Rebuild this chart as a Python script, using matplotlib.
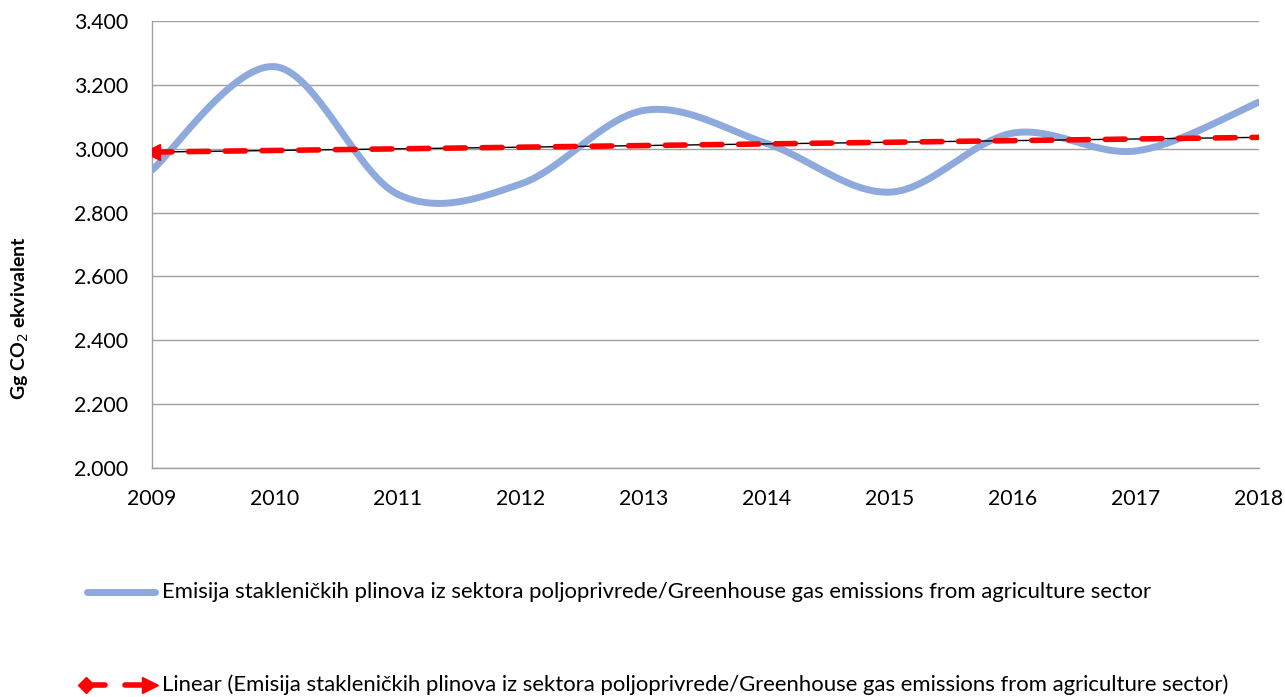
import numpy as np
import matplotlib
matplotlib.use("Agg")
import matplotlib.pyplot as plt
from matplotlib.lines import Line2D
from matplotlib.ticker import FuncFormatter

years = [2009, 2010, 2011, 2012, 2013, 2014, 2015, 2016, 2017, 2018]
emissions = [2933, 3257, 2857, 2890, 3120, 3016, 2864, 3049, 2993, 3146]

label_series = "Emisija stakleničkih plinova iz sektora poljoprivrede/Greenhouse gas emissions from agriculture sector"
label_trend = "Linear (Emisija stakleničkih plinova iz sektora poljoprivrede/Greenhouse gas emissions from agriculture sector)"

plt.rcParams['font.family'] = ['Lato', 'DejaVu Sans']


def smooth(x, y, n=40):
    # excel-like smoothed line: bezier segments with catmull-rom control points
    x = np.asarray(x, float)
    y = np.asarray(y, float)
    px = np.concatenate([[x[0]], x, [x[-1]]])
    py = np.concatenate([[y[0]], y, [y[-1]]])
    xs, ys = [], []
    t = np.linspace(0, 1, n)
    for i in range(1, len(px) - 2):
        p0 = np.array([px[i], py[i]])
        p3 = np.array([px[i + 1], py[i + 1]])
        p1 = p0 + (np.array([px[i + 1], py[i + 1]]) - np.array([px[i - 1], py[i - 1]])) / 6
        p2 = p3 - (np.array([px[i + 2], py[i + 2]]) - np.array([px[i], py[i]])) / 6
        b = ((1 - t) ** 3)[:, None] * p0 + (3 * (1 - t) ** 2 * t)[:, None] * p1 \
            + (3 * (1 - t) * t ** 2)[:, None] * p2 + (t ** 3)[:, None] * p3
        xs.extend(b[:, 0])
        ys.extend(b[:, 1])
    return np.array(xs), np.array(ys)


fig = plt.figure(figsize=(12.85, 6.97), dpi=100)
ax = fig.add_axes([152 / 1285, 1 - 468 / 697, (1259 - 152) / 1285, (468 - 21) / 697])

blue = "#8EA9DB"
sx, sy = smooth(years, emissions)
ax.plot(sx, sy, color=blue, lw=5, solid_capstyle="round", zorder=3)

coef = np.polyfit(years, emissions, 1)
ty = np.polyval(coef, years)
ax.plot(years, ty, color="black", lw=1, zorder=4)
ax.plot(years, ty, color="red", lw=4, dashes=(3.6, 3.0), dash_capstyle="round", zorder=5)
ax.plot([years[0]], [ty[0]], marker="<", color="red", ms=11, zorder=6)

ax.set_xlim(2009, 2018)
ax.set_ylim(2000, 3400)
ax.set_xticks(years)
ax.set_yticks(np.arange(2000, 3401, 200))
ax.yaxis.set_major_formatter(FuncFormatter(lambda v, p: f"{int(v):,}".replace(",", ".")))
ax.tick_params(length=0, labelsize=15.3)
ax.tick_params(axis="y", pad=17)
ax.tick_params(axis="x", pad=15)
ax.grid(axis="y", color="#A0A0A0", lw=1)
ax.set_axisbelow(True)
for s in ["top", "right"]:
    ax.spines[s].set_visible(False)
for s in ["left", "bottom"]:
    ax.spines[s].set_color("#A0A0A0")
    ax.spines[s].set_linewidth(1)

fig.text(20 / 1285, 1 - 318 / 697, "Gg CO$_2$ ekvivalent", rotation=90, ha="center", va="center",
         fontsize=14, fontweight="bold")

# legend, drawn by hand below the plot
y1 = 1 - 592 / 697
y2 = 1 - 685 / 697
fig.add_artist(Line2D([87 / 1285, 155 / 1285], [y1, y1], color=blue, lw=5, solid_capstyle="round"))
fig.text(162 / 1285, y1, label_series, ha="left", va="center", fontsize=15.9)
fig.add_artist(Line2D([86 / 1285, 105 / 1285], [y2, y2], color="red", lw=4, solid_capstyle="round"))
fig.add_artist(Line2D([86 / 1285], [y2], marker="D", color="red", ms=8))
fig.add_artist(Line2D([125 / 1285, 150 / 1285], [y2, y2], color="red", lw=4, solid_capstyle="round"))
fig.add_artist(Line2D([150 / 1285], [y2], marker=">", color="red", ms=11))
fig.text(162 / 1285, y2, label_trend, ha="left", va="center", fontsize=15.9)

fig.savefig("out.png", dpi=100, facecolor="white")
